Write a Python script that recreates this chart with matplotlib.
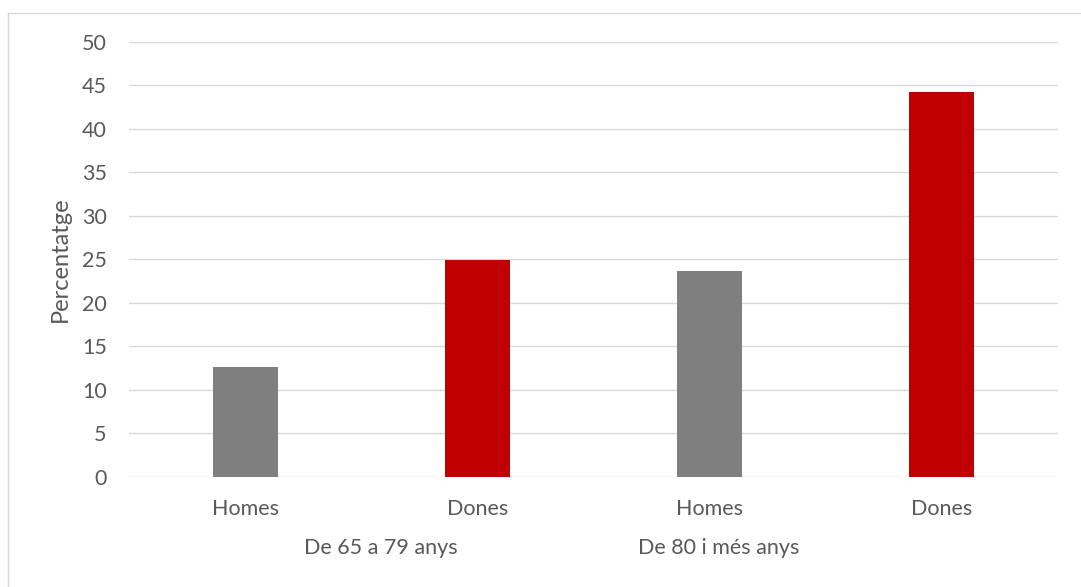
import matplotlib
matplotlib.use("Agg")
import matplotlib.pyplot as plt
from matplotlib.lines import Line2D

plt.rcParams['font.family'] = ['Lato', 'DejaVu Sans']

# Data
categories = ["Homes", "Dones", "Homes", "Dones"]
values = [12.6, 24.9, 23.7, 44.2]
bar_colors = ["#7f7f7f", "#c00000", "#7f7f7f", "#c00000"]
groups = ["De 65 a 79 anys", "De 80 i més anys"]
group_pos = [0.585, 2.04]
yticks = list(range(0, 55, 5))

W, H = 1081, 587
fig = plt.figure(figsize=(W / 100, H / 100), dpi=100)
ax = fig.add_axes([129 / W, 1 - 476.7 / H, (1058 - 129) / W, (476.7 - 41.7) / H])

text_color = "#595959"
grid_color = "#d9d9d9"
fs = 15.5

x = list(range(len(categories)))
ax.bar(x, values, width=0.28, color=bar_colors, zorder=3)

ax.set_xlim(-0.5, len(categories) - 0.5)
ax.set_ylim(0, 50)
ax.set_yticks(yticks)
ax.set_yticklabels([str(t) for t in yticks])
ax.set_xticks(x)
ax.set_xticklabels(categories)
ax.yaxis.grid(True, color=grid_color, linewidth=1.0, zorder=0)
ax.set_axisbelow(True)
for s in ax.spines.values():
    s.set_visible(False)
ax.tick_params(axis='both', length=0, labelsize=fs, labelcolor=text_color)
ax.tick_params(axis='y', pad=16)
ax.tick_params(axis='x', pad=16)

ax.set_ylabel("Percentatge", fontsize=fs * 1.1, color=text_color, labelpad=8)

# Group labels under the category labels
for g, p in zip(groups, group_pos):
    ax.text(p, -0.164, g, transform=ax.get_xaxis_transform(), ha='center', va='center',
            fontsize=fs, color=text_color)

# Outer chart frame
fig.add_artist(Line2D([8 / W, 8 / W], [0, 1 - 12.7 / H], color=grid_color, lw=1.0,
                      transform=fig.transFigure))
fig.add_artist(Line2D([8 / W, 1], [1 - 12.7 / H, 1 - 12.7 / H], color=grid_color, lw=1.0,
                      transform=fig.transFigure))

fig.savefig("out.png", dpi=100, facecolor="white")
